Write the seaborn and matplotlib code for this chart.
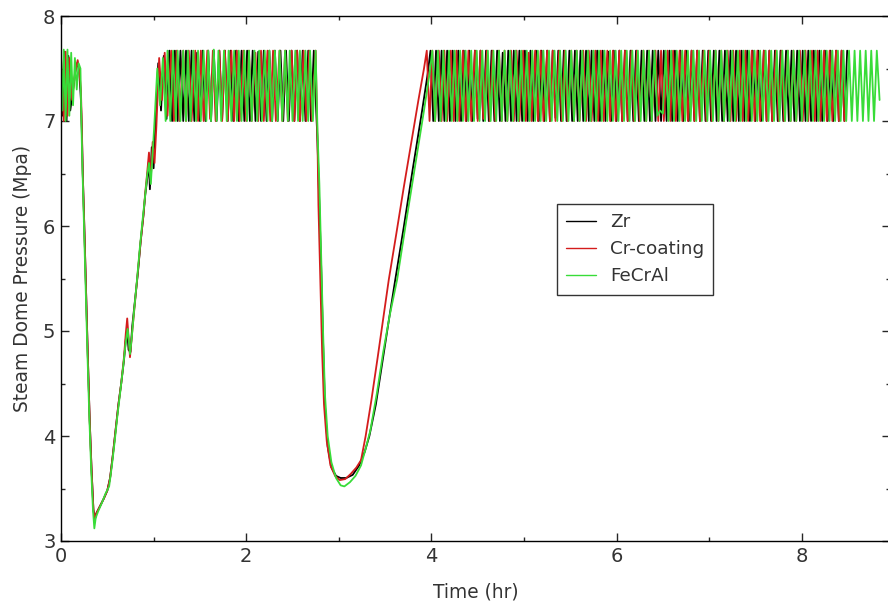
import numpy as np
import pandas as pd
import matplotlib
matplotlib.use("Agg")
import matplotlib.pyplot as plt
import seaborn as sns
from matplotlib.ticker import MultipleLocator
from matplotlib.lines import Line2D

sns.set_style("ticks")
plt.rcParams['font.family'] = ['DejaVu Sans']

# ---------------- data ----------------
series_names = ["Zr", "Cr-coating", "FeCrAl"]

# --- Zr ---
zr_start_t = [0.00, 0.02, 0.04, 0.06, 0.08, 0.10, 0.13, 0.16, 0.18, 0.20, 0.215,
              0.225, 0.235, 0.25, 0.27, 0.29, 0.31, 0.33, 0.35, 0.365, 0.38,
              0.42, 0.46, 0.50, 0.53, 0.56, 0.59, 0.62, 0.65, 0.68, 0.70,
              0.715, 0.73, 0.75, 0.77, 0.80, 0.83, 0.86, 0.89, 0.91, 0.93,
              0.95, 0.96, 0.98, 1.00, 1.02]
zr_start_p = [7.6, 7.05, 7.66, 7.0, 7.62, 7.1, 7.3, 7.5, 7.56, 7.44, 7.2,
              6.9, 6.5, 6.05, 5.4, 4.75, 4.15, 3.68, 3.3, 3.2, 3.26,
              3.33, 3.4, 3.48, 3.6, 3.82, 4.06, 4.3, 4.5, 4.72, 4.92,
              5.0, 4.82, 4.8, 5.05, 5.3, 5.55, 5.85, 6.1, 6.3, 6.44,
              6.62, 6.35, 6.75, 6.55, 7.0]
zr_band1_t = [1.05, 1.08, 1.11, 1.14, 1.17, 1.20, 1.23, 1.26, 1.29, 1.32,
              1.35, 1.38, 1.41, 1.44, 1.47, 1.50, 1.53, 1.56, 1.59, 1.62,
              1.65, 1.68, 1.71, 1.74, 1.77, 1.80, 1.83, 1.86, 1.89, 1.92,
              1.95, 1.98, 2.01, 2.04, 2.07, 2.10, 2.13, 2.16, 2.19, 2.22,
              2.25, 2.28, 2.31, 2.34, 2.37, 2.40, 2.43, 2.46, 2.49, 2.52,
              2.55, 2.58, 2.61, 2.64, 2.67, 2.70, 2.73]
zr_band1_p = [7.55, 7.1, 7.62, 7.02, 7.67, 7.0, 7.67, 7.0, 7.67, 7.0,
              7.67, 7.0, 7.67, 7.0, 7.65, 7.0, 7.67, 7.0, 7.67, 7.0,
              7.67, 7.0, 7.67, 7.02, 7.67, 7.0, 7.67, 7.0, 7.67, 7.0,
              7.67, 7.0, 7.67, 7.0, 7.67, 7.0, 7.66, 7.0, 7.67, 7.0,
              7.67, 7.0, 7.67, 7.0, 7.67, 7.0, 7.67, 7.0, 7.67, 7.0,
              7.67, 7.0, 7.67, 7.0, 7.67, 7.0, 7.67]
zr_dip_t = [2.76, 2.77, 2.79, 2.81, 2.83, 2.85, 2.88, 2.92, 2.97, 3.02,
            3.08, 3.15, 3.22, 3.28, 3.33, 3.40, 3.47, 3.54, 3.61, 3.70,
            3.80, 3.90, 3.96, 3.99]
zr_dip_p = [7.0, 6.8, 6.2, 5.6, 4.9, 4.3, 3.9, 3.7, 3.62, 3.6,
            3.6, 3.63, 3.72, 3.85, 4.0, 4.3, 4.7, 5.1, 5.49, 5.98,
            6.55, 7.1, 7.45, 7.67]
zr_band2_t = [4.02, 4.05, 4.08, 4.11, 4.14, 4.17, 4.20, 4.23, 4.26, 4.29,
              4.32, 4.35, 4.38, 4.41, 4.44, 4.47, 4.50, 4.53, 4.56, 4.59,
              4.62, 4.65, 4.68, 4.71, 4.74, 4.77, 4.80, 4.83, 4.86, 4.89,
              4.92, 4.95, 4.98, 5.01, 5.04, 5.07, 5.10, 5.13, 5.16, 5.19,
              5.22, 5.25, 5.28, 5.31, 5.34, 5.37, 5.40, 5.43, 5.46, 5.49,
              5.52, 5.55, 5.58, 5.61, 5.64, 5.67, 5.70, 5.73, 5.76, 5.79,
              5.82, 5.85, 5.88, 5.91, 5.94, 5.97, 6.00, 6.03, 6.06, 6.09,
              6.12, 6.15, 6.18, 6.21, 6.24, 6.27, 6.30, 6.33, 6.36, 6.39,
              6.42, 6.45, 6.48, 6.51, 6.54, 6.57, 6.60, 6.63, 6.66, 6.69,
              6.72, 6.75, 6.78, 6.81, 6.84, 6.87, 6.90, 6.93, 6.96, 6.99,
              7.02, 7.05, 7.08, 7.11, 7.14, 7.17, 7.20, 7.23, 7.26, 7.29,
              7.32, 7.35, 7.38, 7.41, 7.44, 7.47, 7.50, 7.53, 7.56, 7.59,
              7.62, 7.65, 7.68, 7.71, 7.74, 7.77, 7.80, 7.83, 7.86, 7.89,
              7.92, 7.95, 7.98, 8.01, 8.04, 8.07, 8.10, 8.13, 8.16, 8.19,
              8.22, 8.25, 8.28, 8.31, 8.34, 8.37, 8.40, 8.43, 8.46, 8.49]
zr_band2_p = [7.0, 7.67, 7.0, 7.67, 7.0, 7.67, 7.0, 7.67, 7.0, 7.67,
              7.0, 7.67, 7.0, 7.67, 7.0, 7.67, 7.02, 7.67, 7.0, 7.67,
              7.0, 7.67, 7.0, 7.67, 7.0, 7.65, 7.0, 7.67, 7.0, 7.67,
              7.0, 7.67, 7.0, 7.67, 7.0, 7.67, 7.0, 7.67, 7.0, 7.67,
              7.0, 7.67, 7.0, 7.67, 7.03, 7.67, 7.0, 7.67, 7.0, 7.67,
              7.0, 7.67, 7.0, 7.67, 7.0, 7.67, 7.0, 7.67, 7.0, 7.67,
              7.0, 7.67, 7.0, 7.66, 7.0, 7.67, 7.0, 7.67, 7.0, 7.67,
              7.0, 7.67, 7.0, 7.67, 7.0, 7.67, 7.0, 7.67, 7.0, 7.67,
              7.0, 7.67, 7.0, 7.67, 7.0, 7.67, 7.0, 7.67, 7.0, 7.67,
              7.0, 7.67, 7.0, 7.67, 7.0, 7.67, 7.0, 7.67, 7.0, 7.67,
              7.0, 7.67, 7.0, 7.67, 7.0, 7.67, 7.0, 7.67, 7.0, 7.67,
              7.0, 7.67, 7.0, 7.67, 7.0, 7.67, 7.0, 7.67, 7.0, 7.67,
              7.0, 7.67, 7.0, 7.67, 7.0, 7.67, 7.0, 7.67, 7.0, 7.67,
              7.0, 7.67, 7.0, 7.67, 7.0, 7.67, 7.0, 7.67, 7.0, 7.67,
              7.0, 7.67, 7.0, 7.67, 7.0, 7.67, 7.0, 7.67, 7.0, 7.67]

# --- Cr-coating ---
cr_start_t = [0.00, 0.03, 0.05, 0.07, 0.09, 0.12, 0.15, 0.18, 0.20, 0.215,
              0.225, 0.235, 0.25, 0.27, 0.29, 0.31, 0.33, 0.35, 0.365, 0.38,
              0.42, 0.46, 0.50, 0.53, 0.56, 0.59, 0.62, 0.65, 0.68, 0.70,
              0.715, 0.745, 0.77, 0.80, 0.83, 0.86, 0.89, 0.91, 0.93, 0.95,
              0.97, 0.99, 1.01, 1.03]
cr_start_p = [7.62, 7.0, 7.66, 7.05, 7.6, 7.2, 7.45, 7.58, 7.45, 7.3,
              6.95, 6.5, 6.05, 5.4, 4.75, 4.15, 3.68, 3.3, 3.2, 3.26,
              3.33, 3.4, 3.48, 3.6, 3.82, 4.06, 4.3, 4.5, 4.75, 4.98,
              5.12, 4.75, 5.0, 5.28, 5.55, 5.85, 6.1, 6.32, 6.5, 6.7,
              6.45, 6.8, 6.6, 6.95]
cr_band1_t = [1.06, 1.09, 1.12, 1.15, 1.19, 1.22, 1.25, 1.28, 1.32, 1.35,
              1.38, 1.41, 1.45, 1.48, 1.51, 1.54, 1.58, 1.61, 1.64, 1.67,
              1.71, 1.74, 1.77, 1.80, 1.84, 1.87, 1.90, 1.93, 1.97, 2.00,
              2.03, 2.06, 2.10, 2.13, 2.16, 2.19, 2.23, 2.26, 2.29, 2.32,
              2.36, 2.39, 2.42, 2.45, 2.49, 2.52, 2.55, 2.58, 2.62, 2.65,
              2.68, 2.71, 2.75]
cr_band1_p = [7.6, 7.2, 7.65, 7.05, 7.67, 7.0, 7.67, 7.0, 7.67, 7.0,
              7.67, 7.0, 7.67, 7.0, 7.67, 7.0, 7.67, 7.02, 7.67, 7.0,
              7.67, 7.0, 7.67, 7.0, 7.67, 7.0, 7.67, 7.0, 7.67, 7.0,
              7.67, 7.0, 7.65, 7.0, 7.67, 7.0, 7.67, 7.0, 7.67, 7.0,
              7.67, 7.0, 7.67, 7.0, 7.67, 7.0, 7.67, 7.0, 7.67, 7.0,
              7.67, 7.0, 7.67]
cr_dip_t = [2.77, 2.78, 2.80, 2.82, 2.84, 2.87, 2.91, 2.96, 3.01, 3.07,
            3.13, 3.19, 3.24, 3.29, 3.35, 3.42, 3.48, 3.54, 3.62, 3.70,
            3.78, 3.86, 3.92]
cr_dip_p = [6.8, 6.2, 5.5, 4.8, 4.3, 3.95, 3.72, 3.62, 3.58, 3.59,
            3.64, 3.7, 3.77, 4.0, 4.33, 4.75, 5.12, 5.49, 5.92, 6.36,
            6.78, 7.2, 7.5]
cr_band2_t = [3.95, 3.98, 4.01, 4.04, 4.08, 4.11, 4.14, 4.17, 4.21, 4.24,
              4.27, 4.30, 4.34, 4.37, 4.40, 4.43, 4.47, 4.50, 4.53, 4.56,
              4.60, 4.63, 4.66, 4.69, 4.73, 4.76, 4.79, 4.82, 4.86, 4.89,
              4.92, 4.95, 4.99, 5.02, 5.05, 5.08, 5.12, 5.15, 5.18, 5.21,
              5.25, 5.28, 5.31, 5.34, 5.38, 5.41, 5.44, 5.47, 5.51, 5.54,
              5.57, 5.60, 5.64, 5.67, 5.70, 5.73, 5.77, 5.80, 5.83, 5.86,
              5.90, 5.93, 5.96, 5.99, 6.03, 6.06, 6.09, 6.12, 6.16, 6.19,
              6.22, 6.25, 6.29, 6.32, 6.35, 6.38, 6.42, 6.45, 6.48, 6.51,
              6.55, 6.58, 6.61, 6.64, 6.68, 6.71, 6.74, 6.77, 6.81, 6.84,
              6.87, 6.90, 6.94, 6.97, 7.00, 7.03, 7.07, 7.10, 7.13, 7.16,
              7.20, 7.23, 7.26, 7.29, 7.33, 7.36, 7.39, 7.42, 7.46, 7.49,
              7.52, 7.55, 7.59, 7.62, 7.65, 7.68, 7.72, 7.75, 7.78, 7.81,
              7.85, 7.88, 7.91, 7.94, 7.98, 8.01, 8.04, 8.07, 8.11, 8.14,
              8.17, 8.20, 8.24, 8.27, 8.30, 8.33, 8.37, 8.40, 8.43, 8.46]
cr_band2_p = [7.67, 7.0, 7.67, 7.0, 7.67, 7.0, 7.67, 7.0, 7.67, 7.0,
              7.67, 7.0, 7.67, 7.0, 7.67, 7.0, 7.67, 7.0, 7.67, 7.02,
              7.67, 7.0, 7.67, 7.0, 7.67, 7.0, 7.67, 7.0, 7.67, 7.0,
              7.67, 7.0, 7.67, 7.0, 7.65, 7.0, 7.67, 7.0, 7.67, 7.0,
              7.67, 7.0, 7.67, 7.0, 7.67, 7.0, 7.67, 7.0, 7.67, 7.0,
              7.67, 7.0, 7.67, 7.0, 7.67, 7.0, 7.67, 7.0, 7.67, 7.0,
              7.67, 7.0, 7.67, 7.0, 7.67, 7.0, 7.67, 7.0, 7.67, 7.0,
              7.67, 7.0, 7.67, 7.0, 7.67, 7.0, 7.67, 7.0, 7.67, 7.0,
              7.67, 7.0, 7.67, 7.0, 7.67, 7.0, 7.67, 7.0, 7.67, 7.0,
              7.67, 7.0, 7.67, 7.0, 7.67, 7.0, 7.67, 7.0, 7.67, 7.0,
              7.67, 7.0, 7.67, 7.0, 7.67, 7.0, 7.67, 7.0, 7.67, 7.0,
              7.67, 7.0, 7.67, 7.0, 7.67, 7.0, 7.67, 7.0, 7.67, 7.0,
              7.67, 7.0, 7.67, 7.0, 7.67, 7.0, 7.67, 7.0, 7.67, 7.0,
              7.67, 7.0, 7.67, 7.0, 7.67, 7.0, 7.67, 7.0, 7.67, 7.0]

# --- FeCrAl ---
fe_start_t = [0.00, 0.015, 0.03, 0.05, 0.07, 0.09, 0.11, 0.13, 0.15, 0.17, 0.19, 0.21,
              0.22, 0.23, 0.245, 0.265, 0.285, 0.305, 0.325, 0.345, 0.36, 0.375,
              0.40, 0.44, 0.48, 0.52, 0.55, 0.58, 0.61, 0.64, 0.67, 0.70,
              0.72, 0.745, 0.76, 0.79, 0.82, 0.85, 0.88, 0.91, 0.93, 0.95,
              0.97, 0.99, 1.01]
fe_start_p = [7.55, 7.1, 7.68, 7.0, 7.68, 7.05, 7.65, 7.15, 7.6, 7.3, 7.55, 7.5,
              7.0, 6.6, 6.1, 5.45, 4.8, 4.2, 3.7, 3.3, 3.12, 3.22,
              3.28, 3.36, 3.45, 3.52, 3.72, 3.95, 4.2, 4.42, 4.65, 4.9,
              5.02, 4.78, 4.9, 5.2, 5.48, 5.78, 6.05, 6.3, 6.48, 6.6,
              6.4, 6.7, 7.0]
fe_band1_t = [1.04, 1.07, 1.10, 1.13, 1.15, 1.18, 1.21, 1.24, 1.26, 1.29,
              1.32, 1.35, 1.37, 1.40, 1.43, 1.46, 1.48, 1.51, 1.54, 1.57,
              1.59, 1.62, 1.65, 1.68, 1.70, 1.73, 1.76, 1.79, 1.81, 1.84,
              1.87, 1.90, 1.92, 1.95, 1.98, 2.01, 2.03, 2.06, 2.09, 2.12,
              2.14, 2.17, 2.20, 2.23, 2.25, 2.28, 2.31, 2.34, 2.36, 2.39,
              2.42, 2.45, 2.47, 2.50, 2.53, 2.56, 2.58, 2.61, 2.64, 2.67,
              2.69, 2.72, 2.75]
fe_band1_p = [7.5, 7.15, 7.6, 7.0, 7.67, 7.0, 7.67, 7.0, 7.67, 7.0,
              7.67, 7.0, 7.67, 7.0, 7.67, 7.0, 7.67, 7.0, 7.67, 7.0,
              7.67, 7.0, 7.68, 7.0, 7.67, 7.0, 7.67, 7.0, 7.67, 7.0,
              7.67, 7.0, 7.67, 7.0, 7.67, 7.0, 7.67, 7.0, 7.67, 7.0,
              7.67, 7.0, 7.67, 7.0, 7.67, 7.0, 7.67, 7.0, 7.67, 7.0,
              7.67, 7.0, 7.67, 7.0, 7.67, 7.0, 7.67, 7.0, 7.67, 7.0,
              7.67, 7.0, 7.67]
fe_dip_t = [2.77, 2.79, 2.81, 2.83, 2.85, 2.88, 2.92, 2.97, 3.02, 3.06,
            3.12, 3.18, 3.24, 3.29, 3.34, 3.41, 3.48, 3.55, 3.63, 3.72,
            3.82, 3.92, 3.98]
fe_dip_p = [6.9, 6.4, 5.7, 5.0, 4.4, 4.0, 3.75, 3.6, 3.53, 3.52,
            3.56, 3.62, 3.72, 3.88, 4.05, 4.4, 4.8, 5.15, 5.49, 6.0,
            6.55, 7.1, 7.45]
fe_band2_t = [4.01, 4.04, 4.07, 4.10, 4.13, 4.16, 4.19, 4.22, 4.25, 4.28,
              4.31, 4.34, 4.37, 4.40, 4.43, 4.46, 4.49, 4.52, 4.55, 4.58,
              4.61, 4.64, 4.67, 4.70, 4.73, 4.76, 4.79, 4.82, 4.85, 4.88,
              4.91, 4.94, 4.97, 5.00, 5.03, 5.06, 5.09, 5.12, 5.15, 5.18,
              5.21, 5.24, 5.27, 5.30, 5.33, 5.36, 5.39, 5.42, 5.45, 5.48,
              5.51, 5.54, 5.57, 5.60, 5.63, 5.66, 5.69, 5.72, 5.75, 5.78,
              5.81, 5.84, 5.87, 5.90, 5.93, 5.96, 5.99, 6.02, 6.05, 6.08,
              6.11, 6.14, 6.17, 6.20, 6.23, 6.26, 6.29, 6.32, 6.35, 6.38,
              6.41, 6.44, 6.47, 6.50, 6.53, 6.56, 6.59, 6.62, 6.65, 6.68,
              6.71, 6.74, 6.77, 6.80, 6.83, 6.86, 6.89, 6.92, 6.95, 6.98,
              7.01, 7.04, 7.07, 7.10, 7.13, 7.16, 7.19, 7.22, 7.25, 7.28,
              7.31, 7.34, 7.37, 7.40, 7.43, 7.46, 7.49, 7.52, 7.55, 7.58,
              7.61, 7.64, 7.67, 7.70, 7.73, 7.76, 7.79, 7.82, 7.85, 7.88,
              7.91, 7.94, 7.97, 8.00, 8.03, 8.06, 8.09, 8.12, 8.15, 8.18,
              8.21, 8.24, 8.27, 8.30, 8.33, 8.36, 8.39, 8.42, 8.45, 8.48,
              8.51, 8.54, 8.57, 8.60, 8.63, 8.66, 8.69, 8.72, 8.75, 8.78,
              8.81, 8.84]
fe_band2_p = [7.67, 7.0, 7.67, 7.0, 7.67, 7.0, 7.67, 7.0, 7.67, 7.0,
              7.67, 7.0, 7.67, 7.0, 7.67, 7.0, 7.67, 7.0, 7.67, 7.0,
              7.67, 7.0, 7.67, 7.0, 7.67, 7.0, 7.67, 7.0, 7.67, 7.0,
              7.67, 7.0, 7.67, 7.0, 7.67, 7.0, 7.67, 7.0, 7.67, 7.0,
              7.67, 7.0, 7.67, 7.0, 7.67, 7.0, 7.67, 7.0, 7.67, 7.0,
              7.67, 7.0, 7.67, 7.0, 7.67, 7.0, 7.67, 7.0, 7.67, 7.0,
              7.67, 7.0, 7.67, 7.0, 7.67, 7.0, 7.67, 7.0, 7.67, 7.0,
              7.67, 7.0, 7.67, 7.0, 7.67, 7.0, 7.67, 7.0, 7.67, 7.0,
              7.67, 7.05, 7.1, 7.07, 7.67, 7.0, 7.67, 7.0, 7.67, 7.0,
              7.67, 7.0, 7.67, 7.0, 7.67, 7.0, 7.67, 7.0, 7.67, 7.0,
              7.67, 7.0, 7.67, 7.0, 7.67, 7.0, 7.67, 7.0, 7.67, 7.0,
              7.67, 7.0, 7.67, 7.0, 7.67, 7.0, 7.67, 7.0, 7.67, 7.0,
              7.67, 7.0, 7.67, 7.0, 7.67, 7.0, 7.67, 7.0, 7.67, 7.0,
              7.67, 7.0, 7.67, 7.0, 7.67, 7.0, 7.67, 7.0, 7.67, 7.0,
              7.67, 7.0, 7.67, 7.0, 7.67, 7.0, 7.67, 7.0, 7.67, 7.0,
              7.67, 7.0, 7.67, 7.0, 7.67, 7.0, 7.67, 7.0, 7.67, 7.0,
              7.67, 7.2]

x_ticks = [0, 2, 4, 6, 8]
y_ticks = [3, 4, 5, 6, 7, 8]

# ---------------- build table ----------------
parts = {
    "Zr": (zr_start_t + zr_band1_t + zr_dip_t + zr_band2_t,
           zr_start_p + zr_band1_p + zr_dip_p + zr_band2_p),
    "Cr-coating": (cr_start_t + cr_band1_t + cr_dip_t + cr_band2_t,
                   cr_start_p + cr_band1_p + cr_dip_p + cr_band2_p),
    "FeCrAl": (fe_start_t + fe_band1_t + fe_dip_t + fe_band2_t,
               fe_start_p + fe_band1_p + fe_dip_p + fe_band2_p),
}
frames = []
for name in series_names:
    t, p = parts[name]
    frames.append(pd.DataFrame({"Time": t, "Pressure": p, "Material": name}))
df = pd.concat(frames, ignore_index=True)

palette = {"Zr": "#000000", "Cr-coating": "#d41c1c", "FeCrAl": "#38dc38"}

# ---------------- plot ----------------
fig = plt.figure(figsize=(8.88, 6.10), dpi=100)
ax = fig.add_axes([61 / 888, 1 - 541 / 610, (890 - 61) / 888, (541 - 16) / 610])

sns.lineplot(data=df, x="Time", y="Pressure", hue="Material",
             hue_order=series_names, palette=palette, estimator=None,
             sort=False, linewidth=1.3, ax=ax, legend=False)

ax.set_xlim(0, (890 - 61) / 92.6)
ax.set_ylim(3, 8)
ax.set_xticks(x_ticks)
ax.set_yticks(y_ticks)
ax.xaxis.set_minor_locator(MultipleLocator(1))
ax.yaxis.set_minor_locator(MultipleLocator(0.5))
txtc = "#333333"
ax.tick_params(which="major", direction="in", top=True, right=True,
               length=6, width=1, labelsize=14, labelcolor=txtc, pad=4)
ax.tick_params(which="minor", direction="in", top=True, right=True,
               length=3, width=1)
for s in ax.spines.values():
    s.set_color("black")
    s.set_linewidth(1.0)

ax.set_xlabel("Time (hr)", fontsize=13.4, color=txtc, labelpad=12)
ax.set_ylabel("Steam Dome Pressure (Mpa)", fontsize=13.4, color=txtc, labelpad=8)

handles = [Line2D([0], [0], color=palette[n], lw=1.0) for n in series_names]
leg = ax.legend(handles, series_names, loc="upper left",
                bbox_to_anchor=((557 - 61) / 829, (541 - 204) / 525),
                frameon=True, fancybox=False, edgecolor="black",
                fontsize=13.2, handlelength=1.6, handletextpad=0.8,
                borderpad=0.5, labelspacing=0.5, borderaxespad=0)
leg.get_frame().set_linewidth(1.0)
for tx in leg.get_texts():
    tx.set_color(txtc)

fig.savefig("out.png", dpi=100)
